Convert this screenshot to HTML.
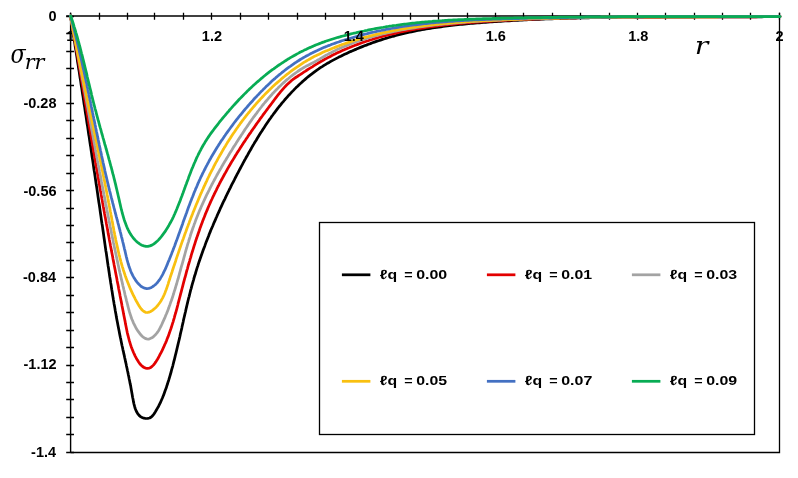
<!DOCTYPE html>
<html><head><meta charset="utf-8"><style>
html,body{margin:0;padding:0;background:#fff;}
svg{display:block;will-change:transform;}
text{font-family:"Liberation Sans",sans-serif;font-weight:bold;fill:#000;}

.m{font-family:"DejaVu Serif",serif;font-style:italic;font-weight:normal;}
</style></head><body>
<svg width="798" height="478" viewBox="0 0 798 478">
<rect width="798" height="478" fill="#fff"/>
<text x="66.31" y="40.60" style="font-size:14.5px;">1</text>
<g fill="none" stroke="#000">
<path d="M66.2,16 H779.4" stroke-width="1.5"/>
<path d="M70.6,12.7 V452.5" stroke-width="1.4"/>
<path d="M70.6,452.5 H779.5 V12.7" stroke-width="1.3"/>
<path d="M70.5,12.7 V19.7 M99.5,12.7 V19.7 M127.5,12.7 V19.7 M154.5,12.7 V19.7 M183.5,12.7 V19.7 M211.5,12.7 V19.7 M240.5,12.7 V19.7 M268.5,12.7 V19.7 M297.5,12.7 V19.7 M325.5,12.7 V19.7 M354.5,12.7 V19.7 M382.5,12.7 V19.7 M410.5,12.7 V19.7 M438.5,12.7 V19.7 M467.5,12.7 V19.7 M495.5,12.7 V19.7 M523.5,12.7 V19.7 M552.5,12.7 V19.7 M580.5,12.7 V19.7 M609.5,12.7 V19.7 M637.5,12.7 V19.7 M665.5,12.7 V19.7 M694.5,12.7 V19.7 M722.5,12.7 V19.7 M750.5,12.7 V19.7 M779.5,12.7 V19.7 M66.2,16.5 H74 M66.2,33.5 H74 M66.2,51.5 H74 M66.2,68.5 H74 M66.2,85.5 H74 M66.2,103.5 H74 M66.2,120.5 H74 M66.2,138.5 H74 M66.2,155.5 H74 M66.2,173.5 H74 M66.2,190.5 H74 M66.2,208.5 H74 M66.2,225.5 H74 M66.2,242.5 H74 M66.2,260.5 H74 M66.2,277.5 H74 M66.2,295.5 H74 M66.2,312.5 H74 M66.2,330.5 H74 M66.2,347.5 H74 M66.2,365.5 H74 M66.2,382.5 H74 M66.2,399.5 H74 M66.2,417.5 H74 M66.2,434.5 H74 M66.2,452.5 H74" stroke-width="1.3"/>
</g>
<g fill="none" stroke-width="2.75" stroke-linejoin="round" stroke-linecap="round">
<path d="M70.5,16.0 L70.8,18.1 L71.2,20.2 L71.5,22.4 L71.8,24.5 L72.1,26.6 L72.5,28.7 L72.8,30.8 L73.1,33.0 L73.5,35.1 L73.8,37.2 L74.1,39.3 L74.5,41.4 L74.8,43.5 L75.1,45.7 L75.4,47.8 L75.8,49.9 L76.1,52.0 L76.4,54.1 L76.8,56.2 L77.1,58.4 L77.4,60.5 L77.7,62.6 L78.1,64.7 L78.4,66.8 L78.7,68.9 L79.1,71.0 L79.4,73.1 L79.7,75.3 L80.0,77.4 L80.4,79.5 L80.7,81.6 L81.0,83.7 L81.3,85.8 L81.7,87.9 L82.0,90.0 L82.3,92.2 L82.6,94.3 L83.0,96.4 L83.3,98.5 L83.6,100.6 L83.9,102.7 L84.2,104.8 L84.6,106.9 L84.9,109.0 L85.2,111.2 L85.5,113.3 L85.9,115.4 L86.2,117.5 L86.5,119.6 L86.8,121.7 L87.1,123.8 L87.5,125.9 L87.8,128.0 L88.1,130.1 L88.4,132.3 L88.7,134.4 L89.1,136.5 L89.4,138.6 L89.7,140.7 L90.0,142.8 L90.3,144.9 L90.7,147.0 L91.0,149.2 L91.3,151.3 L91.6,153.4 L91.9,155.5 L92.2,157.6 L92.6,159.7 L92.9,161.8 L93.2,163.9 L93.5,166.1 L93.8,168.2 L94.1,170.3 L94.5,172.4 L94.8,174.5 L95.1,176.6 L95.4,178.8 L95.7,180.9 L96.0,183.0 L96.3,185.1 L96.7,187.2 L97.0,189.3 L97.3,191.5 L97.6,193.6 L97.9,195.7 L98.2,197.8 L98.5,199.9 L98.8,202.1 L99.2,204.2 L99.5,206.3 L99.8,208.4 L100.1,210.6 L100.4,212.7 L100.7,214.8 L101.0,216.9 L101.3,219.1 L101.6,221.2 L101.9,223.3 L102.3,225.4 L102.6,227.6 L102.9,229.7 L103.2,231.8 L103.5,233.9 L103.8,236.1 L104.1,238.2 L104.4,240.3 L104.7,242.5 L105.0,244.6 L105.3,246.7 L105.6,248.9 L105.9,251.0 L106.3,253.1 L106.6,255.3 L106.9,257.4 L107.2,259.5 L107.5,261.7 L107.8,263.8 L108.1,265.9 L108.5,268.0 L108.8,270.2 L109.1,272.3 L109.4,274.4 L109.7,276.5 L110.1,278.7 L110.4,280.8 L110.7,282.9 L111.1,285.0 L111.4,287.2 L111.7,289.3 L112.1,291.4 L112.4,293.5 L112.7,295.6 L113.1,297.7 L113.4,299.8 L113.8,301.9 L114.1,304.0 L114.5,306.1 L114.9,308.2 L115.2,310.3 L115.6,312.4 L116.0,314.5 L116.3,316.6 L116.7,318.7 L117.1,320.8 L117.5,322.8 L117.9,324.9 L118.3,327.0 L118.7,329.1 L119.1,331.1 L119.5,333.2 L119.9,335.3 L120.3,337.3 L120.8,339.4 L121.2,341.4 L121.6,343.5 L122.0,345.5 L122.5,347.5 L122.9,349.6 L123.4,351.6 L123.8,353.7 L124.3,355.7 L124.7,357.8 L125.2,359.9 L125.6,361.9 L126.1,364.0 L126.5,366.1 L127.0,368.2 L127.4,370.3 L127.9,372.5 L128.3,374.6 L128.8,376.8 L129.2,379.0 L129.7,381.2 L130.1,383.4 L130.6,385.6 L131.0,387.9 L131.4,390.2 L131.8,392.5 L132.2,394.8 L132.6,397.2 L133.1,399.5 L133.5,401.9 L134.0,404.1 L134.6,406.4 L135.2,408.5 L136.0,410.4 L136.9,412.3 L137.9,413.9 L139.1,415.4 L140.5,416.6 L142.1,417.5 L143.9,418.2 L145.8,418.5 L147.8,418.4 L149.6,418.0 L151.3,417.0 L152.8,415.5 L154.1,413.8 L155.3,411.9 L156.4,410.0 L157.5,408.1 L158.6,406.2 L159.6,404.2 L160.5,402.3 L161.4,400.3 L162.3,398.3 L163.1,396.3 L163.9,394.4 L164.6,392.3 L165.3,390.3 L166.1,388.3 L166.7,386.3 L167.4,384.3 L168.0,382.2 L168.7,380.2 L169.3,378.1 L169.9,376.1 L170.5,374.0 L171.1,372.0 L171.6,369.9 L172.2,367.8 L172.8,365.8 L173.3,363.7 L173.8,361.6 L174.4,359.5 L174.9,357.4 L175.4,355.3 L175.9,353.3 L176.4,351.2 L176.9,349.1 L177.4,347.0 L177.9,344.9 L178.4,342.8 L178.9,340.7 L179.4,338.6 L179.9,336.5 L180.3,334.4 L180.8,332.3 L181.3,330.2 L181.8,328.1 L182.2,326.0 L182.7,323.9 L183.2,321.7 L183.6,319.6 L184.1,317.5 L184.6,315.4 L185.1,313.3 L185.6,311.2 L186.0,309.2 L186.5,307.1 L187.0,305.0 L187.5,302.9 L188.0,300.8 L188.5,298.7 L189.1,296.6 L189.6,294.5 L190.1,292.5 L190.6,290.4 L191.2,288.3 L191.7,286.3 L192.3,284.2 L192.9,282.2 L193.5,280.1 L194.0,278.1 L194.6,276.0 L195.3,274.0 L195.9,271.9 L196.5,269.9 L197.1,267.9 L197.8,265.9 L198.4,263.9 L199.1,261.8 L199.8,259.8 L200.5,257.8 L201.2,255.8 L201.9,253.8 L202.6,251.8 L203.3,249.8 L204.0,247.9 L204.8,245.9 L205.5,243.9 L206.2,241.9 L207.0,239.9 L207.8,238.0 L208.6,236.0 L209.3,234.0 L210.1,232.1 L210.9,230.1 L211.7,228.2 L212.6,226.2 L213.4,224.3 L214.2,222.3 L215.1,220.4 L215.9,218.4 L216.8,216.5 L217.6,214.5 L218.5,212.6 L219.4,210.7 L220.2,208.7 L221.1,206.8 L222.0,204.9 L222.9,202.9 L223.8,201.0 L224.8,199.1 L225.7,197.2 L226.6,195.2 L227.5,193.3 L228.5,191.4 L229.4,189.5 L230.4,187.6 L231.3,185.7 L232.3,183.7 L233.3,181.8 L234.3,179.9 L235.2,178.0 L236.2,176.1 L237.2,174.2 L238.2,172.3 L239.2,170.4 L240.2,168.5 L241.2,166.6 L242.3,164.6 L243.3,162.7 L244.3,160.8 L245.4,158.9 L246.4,157.0 L247.5,155.2 L248.5,153.3 L249.6,151.4 L250.7,149.5 L251.7,147.6 L252.8,145.7 L253.9,143.9 L255.0,142.0 L256.2,140.2 L257.3,138.3 L258.4,136.5 L259.6,134.6 L260.7,132.8 L261.9,131.0 L263.0,129.2 L264.2,127.4 L265.4,125.6 L266.6,123.8 L267.8,122.0 L269.0,120.2 L270.3,118.5 L271.5,116.7 L272.8,115.0 L274.0,113.3 L275.3,111.6 L276.6,109.9 L277.9,108.2 L279.2,106.5 L280.6,104.9 L281.9,103.2 L283.3,101.6 L284.6,100.0 L286.0,98.4 L287.4,96.8 L288.8,95.2 L290.3,93.7 L291.7,92.1 L293.2,90.6 L294.6,89.1 L296.1,87.6 L297.6,86.2 L299.1,84.7 L300.7,83.3 L302.2,81.9 L303.8,80.5 L305.4,79.1 L306.9,77.8 L308.6,76.4 L310.2,75.1 L311.9,73.8 L313.5,72.6 L315.2,71.3 L316.9,70.1 L318.7,68.9 L320.4,67.7 L322.2,66.6 L324.0,65.4 L325.8,64.3 L327.6,63.2 L329.5,62.2 L331.3,61.1 L333.2,60.1 L335.1,59.1 L337.0,58.1 L338.9,57.1 L340.8,56.2 L342.7,55.2 L344.6,54.3 L346.6,53.4 L348.5,52.5 L350.5,51.6 L352.5,50.8 L354.4,49.9 L356.4,49.1 L358.4,48.2 L360.4,47.4 L362.4,46.6 L364.4,45.8 L366.4,45.1 L368.4,44.3 L370.4,43.6 L372.4,42.8 L374.4,42.1 L376.4,41.4 L378.5,40.7 L380.5,40.1 L382.5,39.4 L384.6,38.8 L386.6,38.1 L388.7,37.5 L390.7,36.9 L392.8,36.3 L394.9,35.8 L396.9,35.2 L399.0,34.7 L401.1,34.2 L403.1,33.7 L405.2,33.2 L407.3,32.7 L409.4,32.2 L411.5,31.8 L413.6,31.4 L415.7,30.9 L417.8,30.5 L419.9,30.1 L422.0,29.7 L424.1,29.4 L426.2,29.0 L428.3,28.7 L430.4,28.3 L432.5,28.0 L434.6,27.7 L436.7,27.4 L438.8,27.1 L441.0,26.8 L443.1,26.5 L445.2,26.2 L447.3,25.9 L449.5,25.7 L451.6,25.4 L453.7,25.2 L455.8,25.0 L458.0,24.7 L460.1,24.5 L462.2,24.3 L464.4,24.1 L466.5,23.9 L468.6,23.7 L470.8,23.5 L472.9,23.3 L475.0,23.2 L477.2,23.0 L479.3,22.8 L481.5,22.6 L483.6,22.5 L485.7,22.3 L487.9,22.2 L490.0,22.0 L492.1,21.9 L494.3,21.7 L496.4,21.6 L498.6,21.4 L500.7,21.3 L502.8,21.2 L505.0,21.0 L507.1,20.9 L509.3,20.8 L511.4,20.6 L513.5,20.5 L515.7,20.4 L517.8,20.3 L519.9,20.2 L522.1,20.1 L524.2,19.9 L526.4,19.8 L528.5,19.7 L530.6,19.6 L532.8,19.5 L534.9,19.4 L537.1,19.3 L539.2,19.3 L541.3,19.2 L543.5,19.1 L545.6,19.0 L547.7,18.9 L549.9,18.8 L552.0,18.8 L554.2,18.7 L556.3,18.6 L558.4,18.5 L560.6,18.5 L562.7,18.4 L564.9,18.3 L567.0,18.3 L569.1,18.2 L571.3,18.2 L573.4,18.1 L575.6,18.1 L577.7,18.0 L579.8,17.9 L582.0,17.9 L584.1,17.8 L586.3,17.8 L588.4,17.8 L590.5,17.7 L592.7,17.7 L594.8,17.6 L597.0,17.6 L599.1,17.6 L601.2,17.5 L603.4,17.5 L605.5,17.5 L607.7,17.4 L609.8,17.4 L611.9,17.4 L614.1,17.3 L616.2,17.3 L618.4,17.3 L620.5,17.3 L622.6,17.2 L624.8,17.2 L626.9,17.2 L629.1,17.2 L631.2,17.2 L633.3,17.2 L635.5,17.1 L637.6,17.1 L639.8,17.1 L641.9,17.1 L644.0,17.1 L646.2,17.1 L648.3,17.1 L650.5,17.0 L652.6,17.0 L654.7,17.0 L656.9,17.0 L659.0,17.0 L661.2,17.0 L663.3,17.0 L665.4,17.0 L667.6,17.0 L669.7,17.0 L671.9,17.0 L674.0,17.0 L676.2,17.0 L678.3,17.0 L680.4,17.0 L682.6,17.0 L684.7,17.0 L686.9,17.0 L689.0,17.0 L691.1,17.0 L693.3,17.0 L695.4,17.0 L697.6,16.9 L699.7,16.9 L701.8,16.9 L704.0,16.9 L706.1,16.9 L708.3,16.9 L710.4,16.9 L712.6,16.9 L714.7,16.9 L716.8,16.9 L719.0,16.9 L721.1,16.9 L723.3,16.9 L725.4,16.9 L727.5,16.9 L729.7,16.9 L731.8,16.9 L734.0,16.9 L736.1,16.9 L738.2,16.9 L740.4,16.9 L742.5,16.9 L744.7,16.9 L746.8,16.8 L749.0,16.8 L751.1,16.8 L753.2,16.8 L755.4,16.8 L757.5,16.8 L759.7,16.8 L761.8,16.8 L763.9,16.7 L766.1,16.7 L768.2,16.7 L770.4,16.7 L772.5,16.7 L774.6,16.6 L776.8,16.6 L778.9,16.6 L780.0,16.6" stroke="#000000"/><path d="M70.5,16.0 L70.8,18.0 L71.2,19.9 L71.5,21.9 L71.9,23.8 L72.2,25.8 L72.6,27.7 L72.9,29.7 L73.3,31.6 L73.6,33.6 L73.9,35.6 L74.3,37.5 L74.6,39.5 L75.0,41.4 L75.3,43.4 L75.6,45.3 L76.0,47.3 L76.3,49.3 L76.6,51.2 L77.0,53.2 L77.3,55.1 L77.7,57.1 L78.0,59.1 L78.3,61.0 L78.7,63.0 L79.0,64.9 L79.3,66.9 L79.7,68.9 L80.0,70.8 L80.3,72.8 L80.7,74.7 L81.0,76.7 L81.3,78.7 L81.7,80.6 L82.0,82.6 L82.3,84.5 L82.7,86.5 L83.0,88.5 L83.3,90.4 L83.7,92.4 L84.0,94.4 L84.3,96.3 L84.7,98.3 L85.0,100.2 L85.3,102.2 L85.6,104.2 L86.0,106.1 L86.3,108.1 L86.6,110.1 L87.0,112.0 L87.3,114.0 L87.6,115.9 L88.0,117.9 L88.3,119.9 L88.6,121.8 L89.0,123.8 L89.3,125.8 L89.6,127.7 L90.0,129.7 L90.3,131.6 L90.6,133.6 L91.0,135.6 L91.3,137.5 L91.6,139.5 L92.0,141.5 L92.3,143.4 L92.6,145.4 L93.0,147.3 L93.3,149.3 L93.6,151.3 L94.0,153.2 L94.3,155.2 L94.6,157.2 L95.0,159.1 L95.3,161.1 L95.6,163.0 L96.0,165.0 L96.3,167.0 L96.7,168.9 L97.0,170.9 L97.3,172.9 L97.7,174.8 L98.0,176.8 L98.4,178.7 L98.7,180.7 L99.1,182.7 L99.4,184.6 L99.7,186.6 L100.1,188.5 L100.4,190.5 L100.8,192.5 L101.1,194.4 L101.5,196.4 L101.8,198.3 L102.2,200.3 L102.5,202.3 L102.9,204.2 L103.2,206.2 L103.6,208.1 L103.9,210.1 L104.3,212.0 L104.6,214.0 L105.0,216.0 L105.4,217.9 L105.7,219.9 L106.1,221.8 L106.4,223.8 L106.8,225.7 L107.2,227.7 L107.5,229.6 L107.9,231.6 L108.2,233.6 L108.6,235.5 L109.0,237.5 L109.3,239.4 L109.7,241.4 L110.1,243.3 L110.4,245.3 L110.8,247.2 L111.2,249.2 L111.5,251.1 L111.9,253.1 L112.3,255.1 L112.7,257.0 L113.0,259.0 L113.4,260.9 L113.8,262.9 L114.1,264.8 L114.5,266.8 L114.9,268.7 L115.3,270.7 L115.6,272.6 L116.0,274.6 L116.4,276.5 L116.8,278.5 L117.1,280.4 L117.5,282.4 L117.9,284.3 L118.3,286.3 L118.6,288.2 L119.0,290.2 L119.4,292.1 L119.8,294.1 L120.1,296.0 L120.5,298.0 L120.9,300.0 L121.3,301.9 L121.7,303.9 L122.0,305.8 L122.4,307.8 L122.8,309.7 L123.2,311.7 L123.5,313.6 L123.9,315.6 L124.3,317.5 L124.7,319.5 L125.1,321.4 L125.4,323.4 L125.8,325.3 L126.2,327.3 L126.6,329.2 L127.0,331.2 L127.4,333.1 L127.9,335.1 L128.4,337.0 L128.9,339.0 L129.4,340.9 L130.0,342.8 L130.6,344.8 L131.2,346.7 L131.9,348.6 L132.7,350.6 L133.5,352.5 L134.4,354.4 L135.3,356.3 L136.3,358.2 L137.4,360.1 L138.6,362.0 L139.8,363.7 L141.2,365.2 L142.6,366.5 L144.1,367.5 L145.7,368.1 L147.2,368.4 L149.4,368.1 L150.8,367.4 L152.1,366.4 L153.4,365.1 L154.6,363.6 L155.8,361.9 L157.0,360.1 L158.1,358.2 L159.2,356.2 L160.2,354.2 L161.2,352.3 L162.2,350.3 L163.1,348.4 L164.0,346.4 L164.8,344.5 L165.7,342.6 L166.5,340.7 L167.2,338.8 L168.0,336.9 L168.7,335.0 L169.4,333.1 L170.0,331.2 L170.7,329.3 L171.3,327.5 L171.9,325.6 L172.5,323.7 L173.1,321.8 L173.6,320.0 L174.2,318.1 L174.7,316.2 L175.2,314.4 L175.8,312.5 L176.3,310.6 L176.8,308.8 L177.3,306.9 L177.8,305.0 L178.2,303.1 L178.7,301.3 L179.2,299.4 L179.7,297.5 L180.2,295.6 L180.7,293.7 L181.2,291.8 L181.7,289.9 L182.2,288.0 L182.7,286.1 L183.2,284.2 L183.7,282.2 L184.2,280.3 L184.7,278.4 L185.3,276.5 L185.8,274.6 L186.3,272.7 L186.8,270.7 L187.4,268.8 L187.9,266.9 L188.4,265.0 L189.0,263.0 L189.6,261.1 L190.1,259.2 L190.7,257.3 L191.2,255.3 L191.8,253.4 L192.4,251.5 L193.0,249.6 L193.6,247.7 L194.2,245.7 L194.8,243.8 L195.4,241.9 L196.0,240.0 L196.7,238.1 L197.3,236.2 L198.0,234.3 L198.6,232.4 L199.3,230.5 L199.9,228.6 L200.6,226.7 L201.3,224.8 L202.0,223.0 L202.7,221.1 L203.4,219.2 L204.2,217.3 L204.9,215.5 L205.6,213.6 L206.4,211.8 L207.2,209.9 L207.9,208.1 L208.7,206.3 L209.5,204.5 L210.3,202.6 L211.1,200.8 L212.0,199.0 L212.8,197.2 L213.7,195.4 L214.5,193.6 L215.4,191.8 L216.3,190.1 L217.1,188.3 L218.0,186.5 L218.9,184.8 L219.8,183.0 L220.8,181.2 L221.7,179.5 L222.6,177.8 L223.6,176.0 L224.5,174.3 L225.5,172.6 L226.5,170.8 L227.4,169.1 L228.4,167.4 L229.4,165.7 L230.4,164.0 L231.4,162.3 L232.5,160.6 L233.5,158.9 L234.5,157.2 L235.5,155.5 L236.6,153.8 L237.6,152.1 L238.7,150.5 L239.8,148.8 L240.8,147.1 L241.9,145.5 L243.0,143.8 L244.1,142.1 L245.2,140.5 L246.3,138.8 L247.4,137.2 L248.5,135.5 L249.6,133.9 L250.8,132.3 L251.9,130.6 L253.0,129.0 L254.2,127.4 L255.3,125.7 L256.4,124.1 L257.6,122.5 L258.8,120.9 L259.9,119.2 L261.1,117.6 L262.3,116.0 L263.4,114.4 L264.6,112.8 L265.8,111.2 L267.0,109.6 L268.2,108.0 L269.4,106.4 L270.6,104.8 L271.8,103.2 L273.0,101.6 L274.2,100.0 L275.4,98.4 L276.6,96.8 L277.9,95.2 L279.1,93.7 L280.3,92.1 L281.6,90.6 L282.9,89.1 L284.2,87.6 L285.5,86.2 L286.9,84.8 L288.3,83.5 L289.7,82.2 L291.1,80.9 L292.6,79.7 L294.1,78.6 L295.7,77.5 L297.3,76.5 L298.9,75.4 L300.5,74.4 L302.1,73.3 L303.8,72.2 L305.5,71.1 L307.1,70.0 L308.8,68.9 L310.5,67.9 L312.3,66.8 L314.0,65.7 L315.7,64.6 L317.4,63.6 L319.2,62.5 L320.9,61.5 L322.7,60.5 L324.4,59.5 L326.2,58.6 L328.0,57.6 L329.8,56.7 L331.5,55.7 L333.3,54.8 L335.1,54.0 L336.9,53.1 L338.7,52.2 L340.5,51.4 L342.3,50.6 L344.2,49.8 L346.0,49.0 L347.8,48.2 L349.6,47.5 L351.5,46.7 L353.3,46.0 L355.2,45.3 L357.0,44.6 L358.9,43.9 L360.7,43.2 L362.6,42.5 L364.5,41.9 L366.3,41.3 L368.2,40.7 L370.1,40.0 L372.0,39.5 L373.8,38.9 L375.7,38.3 L377.6,37.8 L379.5,37.2 L381.4,36.7 L383.3,36.2 L385.2,35.7 L387.2,35.2 L389.1,34.7 L391.0,34.2 L392.9,33.8 L394.8,33.3 L396.8,32.9 L398.7,32.4 L400.6,32.0 L402.6,31.6 L404.5,31.2 L406.4,30.8 L408.4,30.4 L410.3,30.1 L412.3,29.7 L414.2,29.4 L416.2,29.0 L418.1,28.7 L420.1,28.4 L422.1,28.1 L424.0,27.8 L426.0,27.5 L428.0,27.2 L429.9,26.9 L431.9,26.6 L433.9,26.4 L435.8,26.1 L437.8,25.8 L439.8,25.6 L441.8,25.4 L443.8,25.1 L445.7,24.9 L447.7,24.7 L449.7,24.5 L451.7,24.3 L453.7,24.1 L455.7,23.9 L457.6,23.7 L459.6,23.5 L461.6,23.3 L463.6,23.1 L465.6,23.0 L467.6,22.8 L469.6,22.7 L471.6,22.5 L473.6,22.3 L475.6,22.2 L477.6,22.1 L479.6,21.9 L481.6,21.8 L483.6,21.6 L485.5,21.5 L487.5,21.4 L489.5,21.3 L491.5,21.1 L493.5,21.0 L495.5,20.9 L497.5,20.8 L499.5,20.7 L501.5,20.6 L503.5,20.4 L505.5,20.3 L507.5,20.2 L509.5,20.1 L511.5,20.0 L513.5,19.9 L515.4,19.8 L517.4,19.7 L519.4,19.7 L521.4,19.6 L523.4,19.5 L525.4,19.4 L527.4,19.3 L529.4,19.2 L531.4,19.1 L533.4,19.1 L535.4,19.0 L537.3,18.9 L539.3,18.8 L541.3,18.8 L543.3,18.7 L545.3,18.6 L547.3,18.6 L549.3,18.5 L551.3,18.4 L553.3,18.4 L555.2,18.3 L557.2,18.3 L559.2,18.2 L561.2,18.2 L563.2,18.1 L565.2,18.1 L567.2,18.0 L569.2,18.0 L571.1,17.9 L573.1,17.9 L575.1,17.8 L577.1,17.8 L579.1,17.7 L581.1,17.7 L583.1,17.7 L585.1,17.6 L587.0,17.6 L589.0,17.6 L591.0,17.5 L593.0,17.5 L595.0,17.5 L597.0,17.4 L599.0,17.4 L600.9,17.4 L602.9,17.3 L604.9,17.3 L606.9,17.3 L608.9,17.3 L610.9,17.3 L612.9,17.2 L614.9,17.2 L616.8,17.2 L618.8,17.2 L620.8,17.2 L622.8,17.1 L624.8,17.1 L626.8,17.1 L628.8,17.1 L630.7,17.1 L632.7,17.1 L634.7,17.1 L636.7,17.0 L638.7,17.0 L640.7,17.0 L642.7,17.0 L644.6,17.0 L646.6,17.0 L648.6,17.0 L650.6,17.0 L652.6,17.0 L654.6,17.0 L656.6,17.0 L658.6,17.0 L660.5,17.0 L662.5,16.9 L664.5,16.9 L666.5,16.9 L668.5,16.9 L670.5,16.9 L672.5,16.9 L674.5,16.9 L676.4,16.9 L678.4,16.9 L680.4,16.9 L682.4,16.9 L684.4,16.9 L686.4,16.9 L688.4,16.9 L690.4,16.9 L692.3,16.9 L694.3,16.9 L696.3,16.9 L698.3,16.9 L700.3,16.9 L702.3,16.9 L704.3,16.9 L706.3,16.9 L708.3,16.9 L710.2,16.9 L712.2,16.9 L714.2,16.9 L716.2,16.9 L718.2,16.9 L720.2,16.9 L722.2,16.9 L724.2,16.9 L726.2,16.9 L728.2,16.9 L730.2,16.9 L732.1,16.9 L734.1,16.9 L736.1,16.8 L738.1,16.8 L740.1,16.8 L742.1,16.8 L744.1,16.8 L746.1,16.8 L748.1,16.8 L750.1,16.8 L752.1,16.8 L754.1,16.8 L756.1,16.8 L758.1,16.7 L760.1,16.7 L762.1,16.7 L764.0,16.7 L766.0,16.7 L768.0,16.7 L770.0,16.7 L772.0,16.6 L774.0,16.6 L776.0,16.6 L778.0,16.6 L780.0,16.6 L780.0,16.6" stroke="#E30000"/><path d="M70.5,16.0 L70.9,17.9 L71.2,19.7 L71.6,21.6 L71.9,23.5 L72.3,25.4 L72.7,27.2 L73.0,29.1 L73.4,31.0 L73.7,32.8 L74.1,34.7 L74.4,36.6 L74.8,38.5 L75.2,40.3 L75.5,42.2 L75.9,44.1 L76.2,46.0 L76.6,47.8 L76.9,49.7 L77.3,51.6 L77.6,53.5 L78.0,55.3 L78.3,57.2 L78.7,59.1 L79.0,61.0 L79.4,62.9 L79.7,64.7 L80.1,66.6 L80.4,68.5 L80.8,70.4 L81.1,72.2 L81.5,74.1 L81.8,76.0 L82.2,77.9 L82.5,79.7 L82.9,81.6 L83.2,83.5 L83.6,85.4 L83.9,87.3 L84.3,89.1 L84.6,91.0 L85.0,92.9 L85.3,94.8 L85.7,96.7 L86.0,98.5 L86.4,100.4 L86.7,102.3 L87.1,104.2 L87.4,106.0 L87.8,107.9 L88.1,109.8 L88.5,111.7 L88.8,113.6 L89.2,115.4 L89.5,117.3 L89.8,119.2 L90.2,121.1 L90.5,123.0 L90.9,124.8 L91.2,126.7 L91.6,128.6 L91.9,130.5 L92.3,132.4 L92.6,134.2 L93.0,136.1 L93.3,138.0 L93.7,139.9 L94.0,141.8 L94.4,143.6 L94.7,145.5 L95.1,147.4 L95.4,149.3 L95.8,151.1 L96.1,153.0 L96.5,154.9 L96.8,156.8 L97.2,158.7 L97.5,160.5 L97.9,162.4 L98.2,164.3 L98.6,166.2 L98.9,168.1 L99.3,169.9 L99.6,171.8 L100.0,173.7 L100.4,175.6 L100.7,177.4 L101.1,179.3 L101.4,181.2 L101.8,183.1 L102.1,184.9 L102.5,186.8 L102.9,188.7 L103.2,190.6 L103.6,192.4 L103.9,194.3 L104.3,196.2 L104.7,198.1 L105.0,199.9 L105.4,201.8 L105.7,203.7 L106.1,205.6 L106.5,207.4 L106.8,209.3 L107.2,211.2 L107.6,213.1 L107.9,214.9 L108.3,216.8 L108.7,218.7 L109.0,220.5 L109.4,222.4 L109.8,224.3 L110.1,226.2 L110.5,228.0 L110.9,229.9 L111.3,231.8 L111.6,233.6 L112.0,235.5 L112.4,237.4 L112.8,239.2 L113.2,241.1 L113.5,243.0 L113.9,244.8 L114.3,246.7 L114.7,248.6 L115.1,250.4 L115.5,252.3 L115.9,254.2 L116.3,256.0 L116.7,257.9 L117.1,259.8 L117.5,261.6 L117.9,263.5 L118.3,265.3 L118.7,267.2 L119.1,269.1 L119.5,270.9 L119.9,272.8 L120.4,274.6 L120.8,276.5 L121.2,278.4 L121.6,280.2 L122.1,282.1 L122.5,283.9 L122.9,285.8 L123.4,287.6 L123.8,289.5 L124.3,291.4 L124.7,293.2 L125.1,295.1 L125.6,296.9 L126.1,298.8 L126.5,300.6 L127.0,302.5 L127.5,304.3 L127.9,306.2 L128.4,308.0 L128.9,309.9 L129.4,311.7 L130.0,313.6 L130.6,315.4 L131.2,317.2 L131.8,319.0 L132.6,320.8 L133.3,322.6 L134.2,324.4 L135.1,326.2 L136.0,328.0 L137.1,329.7 L138.2,331.4 L139.5,333.1 L140.8,334.8 L142.1,336.2 L143.6,337.4 L145.1,338.4 L146.6,338.9 L148.2,339.1 L149.7,338.8 L151.3,338.1 L152.8,337.2 L154.3,335.9 L155.7,334.5 L157.0,332.9 L158.2,331.2 L159.3,329.5 L160.2,327.7 L161.1,326.0 L161.9,324.2 L162.7,322.4 L163.5,320.7 L164.3,318.9 L165.1,317.1 L165.8,315.3 L166.6,313.5 L167.3,311.7 L168.0,309.9 L168.7,308.1 L169.3,306.3 L170.0,304.4 L170.6,302.6 L171.3,300.8 L171.9,299.0 L172.5,297.2 L173.1,295.3 L173.7,293.5 L174.2,291.7 L174.8,289.8 L175.4,288.0 L175.9,286.1 L176.5,284.3 L177.0,282.5 L177.5,280.6 L178.1,278.8 L178.6,276.9 L179.1,275.1 L179.6,273.2 L180.1,271.4 L180.6,269.6 L181.1,267.7 L181.6,265.9 L182.2,264.0 L182.7,262.2 L183.2,260.3 L183.7,258.5 L184.2,256.7 L184.7,254.8 L185.2,253.0 L185.7,251.2 L186.2,249.4 L186.8,247.5 L187.3,245.7 L187.8,243.9 L188.4,242.1 L188.9,240.3 L189.5,238.5 L190.1,236.6 L190.6,234.8 L191.2,233.0 L191.8,231.3 L192.4,229.5 L193.0,227.7 L193.7,225.9 L194.3,224.1 L195.0,222.4 L195.6,220.6 L196.3,218.8 L197.0,217.1 L197.7,215.3 L198.4,213.6 L199.1,211.8 L199.8,210.1 L200.6,208.4 L201.3,206.6 L202.1,204.9 L202.9,203.2 L203.6,201.5 L204.4,199.8 L205.2,198.1 L206.0,196.4 L206.8,194.7 L207.7,193.0 L208.5,191.3 L209.4,189.6 L210.2,187.9 L211.1,186.2 L211.9,184.5 L212.8,182.8 L213.7,181.2 L214.6,179.5 L215.5,177.8 L216.4,176.2 L217.3,174.5 L218.3,172.8 L219.2,171.2 L220.1,169.5 L221.1,167.9 L222.0,166.2 L223.0,164.6 L223.9,162.9 L224.9,161.3 L225.9,159.7 L226.9,158.0 L227.9,156.4 L228.9,154.7 L229.9,153.1 L230.9,151.5 L231.9,149.9 L232.9,148.2 L233.9,146.6 L235.0,145.0 L236.0,143.4 L237.0,141.7 L238.1,140.1 L239.1,138.5 L240.2,136.9 L241.2,135.3 L242.3,133.7 L243.4,132.0 L244.4,130.4 L245.5,128.8 L246.6,127.2 L247.7,125.6 L248.8,124.0 L249.9,122.4 L251.0,120.9 L252.1,119.3 L253.2,117.7 L254.4,116.2 L255.5,114.6 L256.7,113.1 L257.8,111.5 L259.0,110.0 L260.1,108.5 L261.3,107.0 L262.5,105.4 L263.7,104.0 L264.9,102.5 L266.2,101.0 L267.4,99.6 L268.6,98.1 L269.9,96.7 L271.2,95.3 L272.4,93.8 L273.7,92.5 L275.0,91.1 L276.3,89.7 L277.7,88.4 L279.0,87.0 L280.4,85.7 L281.7,84.4 L283.1,83.1 L284.5,81.9 L285.9,80.6 L287.3,79.4 L288.8,78.2 L290.2,77.0 L291.7,75.8 L293.2,74.7 L294.7,73.6 L296.2,72.5 L297.6,71.5 L299.1,70.5 L300.6,69.5 L302.0,68.6 L303.5,67.7 L304.9,66.9 L306.3,66.1 L307.7,65.4 L309.1,64.7 L310.5,64.0 L311.9,63.3 L313.4,62.6 L314.9,61.7 L316.4,60.9 L317.9,60.0 L319.5,59.1 L321.1,58.1 L322.7,57.2 L324.4,56.2 L326.0,55.3 L327.7,54.4 L329.3,53.5 L331.0,52.7 L332.7,51.8 L334.4,51.0 L336.1,50.1 L337.8,49.3 L339.5,48.6 L341.2,47.8 L343.0,47.0 L344.7,46.3 L346.5,45.6 L348.2,44.9 L350.0,44.2 L351.7,43.5 L353.5,42.8 L355.3,42.2 L357.1,41.5 L358.9,40.9 L360.7,40.3 L362.5,39.7 L364.3,39.1 L366.1,38.6 L368.0,38.0 L369.8,37.5 L371.6,36.9 L373.4,36.4 L375.3,35.9 L377.1,35.4 L379.0,35.0 L380.8,34.5 L382.7,34.0 L384.6,33.6 L386.4,33.1 L388.3,32.7 L390.2,32.3 L392.0,31.9 L393.9,31.5 L395.8,31.1 L397.7,30.7 L399.6,30.4 L401.4,30.0 L403.3,29.7 L405.2,29.3 L407.1,29.0 L409.0,28.7 L410.9,28.4 L412.8,28.1 L414.7,27.8 L416.6,27.5 L418.4,27.2 L420.3,26.9 L422.2,26.7 L424.1,26.4 L426.0,26.1 L427.9,25.9 L429.8,25.7 L431.7,25.4 L433.6,25.2 L435.5,25.0 L437.4,24.8 L439.3,24.5 L441.2,24.3 L443.1,24.1 L445.0,23.9 L446.9,23.8 L448.8,23.6 L450.7,23.4 L452.6,23.2 L454.5,23.1 L456.4,22.9 L458.3,22.7 L460.2,22.6 L462.1,22.4 L464.0,22.3 L465.9,22.1 L467.8,22.0 L469.7,21.9 L471.6,21.7 L473.5,21.6 L475.4,21.5 L477.3,21.4 L479.2,21.2 L481.2,21.1 L483.1,21.0 L485.0,20.9 L486.9,20.8 L488.8,20.7 L490.7,20.6 L492.6,20.5 L494.5,20.4 L496.4,20.3 L498.3,20.2 L500.2,20.1 L502.1,20.0 L504.0,19.9 L505.9,19.8 L507.8,19.7 L509.7,19.6 L511.7,19.6 L513.6,19.5 L515.5,19.4 L517.4,19.3 L519.3,19.2 L521.2,19.2 L523.1,19.1 L525.0,19.0 L526.9,18.9 L528.8,18.9 L530.7,18.8 L532.6,18.7 L534.5,18.7 L536.5,18.6 L538.4,18.6 L540.3,18.5 L542.2,18.4 L544.1,18.4 L546.0,18.3 L547.9,18.3 L549.8,18.2 L551.7,18.2 L553.6,18.1 L555.5,18.1 L557.5,18.0 L559.4,18.0 L561.3,17.9 L563.2,17.9 L565.1,17.8 L567.0,17.8 L568.9,17.8 L570.8,17.7 L572.7,17.7 L574.6,17.6 L576.6,17.6 L578.5,17.6 L580.4,17.5 L582.3,17.5 L584.2,17.5 L586.1,17.4 L588.0,17.4 L589.9,17.4 L591.8,17.4 L593.7,17.3 L595.7,17.3 L597.6,17.3 L599.5,17.3 L601.4,17.2 L603.3,17.2 L605.2,17.2 L607.1,17.2 L609.0,17.1 L610.9,17.1 L612.8,17.1 L614.8,17.1 L616.7,17.1 L618.6,17.1 L620.5,17.0 L622.4,17.0 L624.3,17.0 L626.2,17.0 L628.1,17.0 L630.0,17.0 L632.0,17.0 L633.9,17.0 L635.8,16.9 L637.7,16.9 L639.6,16.9 L641.5,16.9 L643.4,16.9 L645.3,16.9 L647.2,16.9 L649.2,16.9 L651.1,16.9 L653.0,16.9 L654.9,16.9 L656.8,16.9 L658.7,16.9 L660.6,16.9 L662.5,16.9 L664.4,16.9 L666.4,16.9 L668.3,16.8 L670.2,16.8 L672.1,16.8 L674.0,16.8 L675.9,16.8 L677.8,16.8 L679.7,16.8 L681.6,16.8 L683.6,16.8 L685.5,16.8 L687.4,16.8 L689.3,16.8 L691.2,16.8 L693.1,16.8 L695.0,16.8 L696.9,16.8 L698.8,16.8 L700.8,16.8 L702.7,16.8 L704.6,16.8 L706.5,16.8 L708.4,16.8 L710.3,16.8 L712.2,16.8 L714.1,16.8 L716.0,16.8 L717.9,16.8 L719.9,16.8 L721.8,16.8 L723.7,16.8 L725.6,16.8 L727.5,16.8 L729.4,16.8 L731.3,16.8 L733.2,16.8 L735.1,16.8 L737.0,16.8 L739.0,16.8 L740.9,16.8 L742.8,16.8 L744.7,16.8 L746.6,16.8 L748.5,16.7 L750.4,16.7 L752.3,16.7 L754.2,16.7 L756.1,16.7 L758.0,16.7 L760.0,16.7 L761.9,16.7 L763.8,16.7 L765.7,16.7 L767.6,16.6 L769.5,16.6 L771.4,16.6 L773.3,16.6 L775.2,16.6 L777.1,16.6 L779.0,16.6 L780.0,16.5" stroke="#A3A3A3"/><path d="M70.5,16.0 L70.8,17.8 L71.2,19.6 L71.5,21.4 L71.9,23.2 L72.2,25.0 L72.6,26.8 L72.9,28.6 L73.2,30.4 L73.6,32.2 L73.9,34.0 L74.3,35.8 L74.7,37.6 L75.0,39.4 L75.4,41.1 L75.7,42.9 L76.1,44.7 L76.4,46.5 L76.8,48.3 L77.2,50.1 L77.5,51.9 L77.9,53.7 L78.2,55.5 L78.6,57.3 L79.0,59.1 L79.3,60.9 L79.7,62.6 L80.1,64.4 L80.4,66.2 L80.8,68.0 L81.2,69.8 L81.6,71.6 L81.9,73.4 L82.3,75.2 L82.7,77.0 L83.0,78.7 L83.4,80.5 L83.8,82.3 L84.2,84.1 L84.5,85.9 L84.9,87.7 L85.3,89.5 L85.7,91.3 L86.1,93.0 L86.4,94.8 L86.8,96.6 L87.2,98.4 L87.6,100.2 L87.9,102.0 L88.3,103.8 L88.7,105.5 L89.1,107.3 L89.5,109.1 L89.8,110.9 L90.2,112.7 L90.6,114.5 L91.0,116.3 L91.4,118.0 L91.7,119.8 L92.1,121.6 L92.5,123.4 L92.9,125.2 L93.3,127.0 L93.6,128.8 L94.0,130.6 L94.4,132.3 L94.8,134.1 L95.1,135.9 L95.5,137.7 L95.9,139.5 L96.3,141.3 L96.7,143.1 L97.0,144.8 L97.4,146.6 L97.8,148.4 L98.2,150.2 L98.5,152.0 L98.9,153.8 L99.3,155.6 L99.6,157.4 L100.0,159.2 L100.4,160.9 L100.8,162.7 L101.1,164.5 L101.5,166.3 L101.9,168.1 L102.2,169.9 L102.6,171.7 L103.0,173.5 L103.3,175.3 L103.7,177.1 L104.0,178.8 L104.4,180.6 L104.8,182.4 L105.1,184.2 L105.5,186.0 L105.8,187.8 L106.2,189.6 L106.5,191.4 L106.9,193.2 L107.2,195.0 L107.6,196.8 L107.9,198.6 L108.3,200.4 L108.6,202.2 L109.0,204.0 L109.3,205.8 L109.7,207.6 L110.0,209.4 L110.3,211.2 L110.7,213.0 L111.0,214.8 L111.4,216.6 L111.7,218.4 L112.0,220.2 L112.4,222.0 L112.7,223.8 L113.0,225.6 L113.4,227.4 L113.7,229.2 L114.0,231.0 L114.4,232.8 L114.7,234.6 L115.1,236.4 L115.5,238.2 L115.8,240.0 L116.2,241.7 L116.6,243.5 L117.0,245.3 L117.4,247.1 L117.8,248.9 L118.2,250.7 L118.6,252.5 L119.0,254.3 L119.5,256.0 L119.9,257.8 L120.4,259.6 L120.8,261.3 L121.3,263.1 L121.8,264.9 L122.3,266.6 L122.9,268.4 L123.4,270.2 L124.0,271.9 L124.6,273.7 L125.1,275.4 L125.7,277.1 L126.4,278.9 L127.0,280.6 L127.7,282.3 L128.4,284.1 L129.1,285.8 L129.8,287.5 L130.5,289.2 L131.3,290.9 L132.1,292.6 L132.9,294.3 L133.7,296.0 L134.6,297.7 L135.4,299.3 L136.3,301.0 L137.3,302.7 L138.2,304.3 L139.2,306.0 L140.2,307.6 L141.3,309.0 L142.4,310.3 L143.6,311.3 L145.5,312.3 L147.5,312.5 L149.0,312.2 L150.6,311.5 L152.1,310.6 L153.6,309.4 L155.0,308.2 L156.4,306.9 L157.7,305.5 L158.8,304.0 L159.9,302.5 L160.9,301.0 L161.8,299.4 L162.7,297.8 L163.5,296.2 L164.3,294.5 L165.0,292.8 L165.6,291.1 L166.3,289.4 L166.9,287.6 L167.5,285.9 L168.1,284.1 L168.6,282.3 L169.2,280.6 L169.8,278.8 L170.3,277.0 L170.9,275.3 L171.5,273.5 L172.1,271.7 L172.6,270.0 L173.2,268.2 L173.8,266.4 L174.4,264.7 L175.0,262.9 L175.6,261.2 L176.1,259.4 L176.7,257.6 L177.3,255.9 L177.9,254.1 L178.5,252.4 L179.1,250.6 L179.7,248.9 L180.3,247.1 L180.9,245.4 L181.5,243.6 L182.1,241.9 L182.7,240.2 L183.4,238.4 L184.0,236.7 L184.6,234.9 L185.2,233.2 L185.9,231.5 L186.5,229.8 L187.1,228.0 L187.8,226.3 L188.4,224.6 L189.1,222.9 L189.7,221.1 L190.4,219.4 L191.0,217.7 L191.7,216.0 L192.4,214.3 L193.0,212.6 L193.7,210.9 L194.4,209.2 L195.1,207.5 L195.8,205.8 L196.5,204.1 L197.2,202.4 L197.9,200.7 L198.6,199.0 L199.3,197.4 L200.0,195.7 L200.7,194.0 L201.5,192.3 L202.2,190.7 L203.0,189.0 L203.7,187.4 L204.5,185.7 L205.2,184.1 L206.0,182.4 L206.8,180.8 L207.5,179.1 L208.3,177.5 L209.1,175.9 L209.9,174.2 L210.7,172.6 L211.5,171.0 L212.4,169.4 L213.2,167.8 L214.0,166.1 L214.9,164.5 L215.7,162.9 L216.6,161.4 L217.4,159.8 L218.3,158.2 L219.2,156.6 L220.1,155.0 L221.0,153.5 L221.9,151.9 L222.8,150.3 L223.7,148.8 L224.6,147.2 L225.6,145.7 L226.5,144.1 L227.4,142.6 L228.4,141.1 L229.4,139.5 L230.4,138.0 L231.3,136.5 L232.3,135.0 L233.3,133.5 L234.4,132.0 L235.4,130.5 L236.4,129.0 L237.5,127.5 L238.5,126.0 L239.6,124.6 L240.6,123.1 L241.7,121.6 L242.8,120.2 L243.9,118.7 L245.0,117.3 L246.1,115.9 L247.3,114.4 L248.4,113.0 L249.6,111.6 L250.7,110.2 L251.9,108.8 L253.1,107.4 L254.3,106.0 L255.5,104.6 L256.7,103.2 L257.9,101.9 L259.2,100.5 L260.4,99.1 L261.7,97.8 L262.9,96.5 L264.2,95.1 L265.5,93.8 L266.8,92.5 L268.1,91.2 L269.4,89.9 L270.8,88.6 L272.1,87.3 L273.4,86.1 L274.8,84.8 L276.1,83.6 L277.5,82.4 L278.9,81.2 L280.3,80.0 L281.6,78.8 L283.0,77.6 L284.4,76.5 L285.8,75.3 L287.2,74.2 L288.7,73.1 L290.1,72.0 L291.5,70.9 L292.9,69.9 L294.4,68.8 L295.8,67.8 L297.3,66.8 L298.8,65.8 L300.2,64.8 L301.7,63.8 L303.2,62.8 L304.8,61.9 L306.3,61.0 L307.8,60.1 L309.4,59.2 L311.0,58.3 L312.5,57.4 L314.1,56.6 L315.8,55.8 L317.4,55.0 L319.1,54.2 L320.7,53.4 L322.4,52.6 L324.1,51.8 L325.8,51.1 L327.5,50.4 L329.2,49.7 L330.9,48.9 L332.6,48.2 L334.3,47.6 L336.1,46.9 L337.8,46.2 L339.5,45.6 L341.2,44.9 L343.0,44.3 L344.7,43.7 L346.4,43.1 L348.2,42.5 L349.9,41.9 L351.6,41.4 L353.4,40.8 L355.1,40.2 L356.9,39.7 L358.6,39.2 L360.4,38.7 L362.1,38.1 L363.9,37.6 L365.6,37.1 L367.4,36.7 L369.2,36.2 L370.9,35.7 L372.7,35.3 L374.4,34.8 L376.2,34.4 L378.0,34.0 L379.8,33.6 L381.5,33.1 L383.3,32.7 L385.1,32.3 L386.9,32.0 L388.7,31.6 L390.4,31.2 L392.2,30.9 L394.0,30.5 L395.8,30.2 L397.6,29.8 L399.4,29.5 L401.2,29.2 L403.0,28.9 L404.8,28.6 L406.6,28.3 L408.4,28.0 L410.2,27.7 L412.0,27.4 L413.8,27.1 L415.6,26.9 L417.4,26.6 L419.2,26.4 L421.0,26.1 L422.8,25.9 L424.6,25.6 L426.4,25.4 L428.2,25.2 L430.0,25.0 L431.9,24.8 L433.7,24.6 L435.5,24.4 L437.3,24.2 L439.1,24.0 L440.9,23.8 L442.8,23.6 L444.6,23.4 L446.4,23.3 L448.2,23.1 L450.0,23.0 L451.9,22.8 L453.7,22.6 L455.5,22.5 L457.3,22.4 L459.2,22.2 L461.0,22.1 L462.8,21.9 L464.6,21.8 L466.5,21.7 L468.3,21.6 L470.1,21.5 L472.0,21.3 L473.8,21.2 L475.6,21.1 L477.5,21.0 L479.3,20.9 L481.1,20.8 L482.9,20.7 L484.8,20.6 L486.6,20.5 L488.4,20.4 L490.3,20.3 L492.1,20.3 L493.9,20.2 L495.8,20.1 L497.6,20.0 L499.4,19.9 L501.2,19.8 L503.1,19.8 L504.9,19.7 L506.7,19.6 L508.6,19.5 L510.4,19.5 L512.2,19.4 L514.1,19.3 L515.9,19.3 L517.7,19.2 L519.5,19.1 L521.4,19.1 L523.2,19.0 L525.0,18.9 L526.9,18.9 L528.7,18.8 L530.5,18.8 L532.3,18.7 L534.2,18.6 L536.0,18.6 L537.8,18.5 L539.7,18.5 L541.5,18.4 L543.3,18.4 L545.1,18.3 L547.0,18.3 L548.8,18.2 L550.6,18.2 L552.5,18.1 L554.3,18.1 L556.1,18.0 L557.9,18.0 L559.8,18.0 L561.6,17.9 L563.4,17.9 L565.2,17.8 L567.1,17.8 L568.9,17.8 L570.7,17.7 L572.6,17.7 L574.4,17.7 L576.2,17.6 L578.0,17.6 L579.9,17.6 L581.7,17.5 L583.5,17.5 L585.3,17.5 L587.2,17.4 L589.0,17.4 L590.8,17.4 L592.7,17.4 L594.5,17.3 L596.3,17.3 L598.1,17.3 L600.0,17.3 L601.8,17.2 L603.6,17.2 L605.4,17.2 L607.3,17.2 L609.1,17.2 L610.9,17.1 L612.7,17.1 L614.6,17.1 L616.4,17.1 L618.2,17.1 L620.0,17.1 L621.9,17.0 L623.7,17.0 L625.5,17.0 L627.4,17.0 L629.2,17.0 L631.0,17.0 L632.8,17.0 L634.7,17.0 L636.5,16.9 L638.3,16.9 L640.1,16.9 L642.0,16.9 L643.8,16.9 L645.6,16.9 L647.4,16.9 L649.3,16.9 L651.1,16.9 L652.9,16.9 L654.7,16.9 L656.6,16.9 L658.4,16.8 L660.2,16.8 L662.1,16.8 L663.9,16.8 L665.7,16.8 L667.5,16.8 L669.4,16.8 L671.2,16.8 L673.0,16.8 L674.8,16.8 L676.7,16.8 L678.5,16.8 L680.3,16.8 L682.1,16.8 L684.0,16.8 L685.8,16.8 L687.6,16.8 L689.5,16.8 L691.3,16.8 L693.1,16.8 L694.9,16.8 L696.8,16.8 L698.6,16.8 L700.4,16.8 L702.2,16.8 L704.1,16.8 L705.9,16.8 L707.7,16.8 L709.6,16.8 L711.4,16.8 L713.2,16.8 L715.0,16.8 L716.9,16.8 L718.7,16.7 L720.5,16.7 L722.4,16.7 L724.2,16.7 L726.0,16.7 L727.8,16.7 L729.7,16.7 L731.5,16.7 L733.3,16.7 L735.2,16.7 L737.0,16.7 L738.8,16.7 L740.6,16.7 L742.5,16.7 L744.3,16.7 L746.1,16.7 L748.0,16.7 L749.8,16.7 L751.6,16.7 L753.5,16.7 L755.3,16.7 L757.1,16.7 L758.9,16.7 L760.8,16.7 L762.6,16.6 L764.4,16.6 L766.3,16.6 L768.1,16.6 L769.9,16.6 L771.8,16.6 L773.6,16.6 L775.4,16.6 L777.3,16.6 L779.1,16.6 L780.0,16.6" stroke="#F9C010"/><path d="M70.5,16.0 L71.0,17.7 L71.4,19.4 L71.9,21.1 L72.3,22.7 L72.8,24.4 L73.2,26.1 L73.7,27.8 L74.1,29.5 L74.5,31.2 L75.0,32.9 L75.4,34.6 L75.8,36.3 L76.2,38.0 L76.6,39.7 L77.1,41.4 L77.5,43.1 L77.9,44.8 L78.3,46.5 L78.7,48.3 L79.1,50.0 L79.5,51.7 L79.9,53.4 L80.3,55.1 L80.7,56.8 L81.1,58.6 L81.5,60.3 L81.9,62.0 L82.3,63.7 L82.6,65.4 L83.0,67.2 L83.4,68.9 L83.8,70.6 L84.2,72.3 L84.5,74.1 L84.9,75.8 L85.3,77.5 L85.6,79.2 L86.0,81.0 L86.4,82.7 L86.8,84.4 L87.1,86.2 L87.5,87.9 L87.8,89.6 L88.2,91.4 L88.6,93.1 L88.9,94.8 L89.3,96.6 L89.7,98.3 L90.0,100.0 L90.4,101.8 L90.7,103.5 L91.1,105.2 L91.4,107.0 L91.8,108.7 L92.2,110.4 L92.5,112.2 L92.9,113.9 L93.2,115.6 L93.6,117.3 L93.9,119.1 L94.3,120.8 L94.7,122.5 L95.0,124.3 L95.4,126.0 L95.7,127.7 L96.1,129.5 L96.4,131.2 L96.8,132.9 L97.2,134.7 L97.5,136.4 L97.9,138.1 L98.2,139.8 L98.6,141.6 L99.0,143.3 L99.3,145.0 L99.7,146.7 L100.1,148.5 L100.4,150.2 L100.8,151.9 L101.2,153.6 L101.5,155.3 L101.9,157.1 L102.3,158.8 L102.7,160.5 L103.0,162.2 L103.4,163.9 L103.8,165.6 L104.2,167.3 L104.6,169.1 L104.9,170.8 L105.3,172.5 L105.7,174.2 L106.1,175.9 L106.5,177.6 L106.9,179.3 L107.3,181.0 L107.7,182.7 L108.1,184.4 L108.5,186.1 L108.9,187.8 L109.3,189.4 L109.7,191.1 L110.2,192.8 L110.6,194.5 L111.0,196.2 L111.4,197.9 L111.9,199.6 L112.3,201.2 L112.7,202.9 L113.2,204.6 L113.6,206.3 L114.0,207.9 L114.5,209.6 L114.9,211.3 L115.3,213.0 L115.8,214.7 L116.2,216.3 L116.7,218.0 L117.1,219.7 L117.6,221.4 L118.0,223.1 L118.5,224.8 L118.9,226.5 L119.3,228.2 L119.8,229.9 L120.2,231.6 L120.7,233.3 L121.1,235.1 L121.5,236.8 L122.0,238.5 L122.4,240.3 L122.8,242.0 L123.3,243.8 L123.7,245.6 L124.1,247.3 L124.5,249.1 L125.0,250.9 L125.4,252.7 L125.8,254.5 L126.2,256.3 L126.7,258.1 L127.1,259.9 L127.6,261.7 L128.1,263.5 L128.7,265.3 L129.2,267.1 L129.9,268.8 L130.5,270.5 L131.2,272.3 L132.0,273.9 L132.8,275.6 L133.7,277.2 L134.7,278.8 L135.7,280.4 L136.8,281.9 L138.0,283.3 L139.2,284.6 L140.5,285.8 L141.8,286.8 L143.2,287.6 L144.6,288.2 L146.7,288.6 L148.8,288.4 L150.9,287.7 L152.3,286.9 L153.6,286.0 L154.9,285.0 L156.1,283.9 L157.3,282.7 L158.3,281.3 L159.4,279.9 L160.4,278.4 L161.3,276.9 L162.2,275.3 L163.1,273.6 L163.9,271.9 L164.8,270.2 L165.6,268.4 L166.3,266.7 L167.1,264.9 L167.8,263.1 L168.5,261.3 L169.3,259.6 L170.0,257.8 L170.7,256.1 L171.4,254.3 L172.0,252.6 L172.7,250.9 L173.4,249.1 L174.0,247.4 L174.7,245.7 L175.3,244.0 L175.9,242.3 L176.6,240.6 L177.2,238.9 L177.8,237.2 L178.4,235.5 L179.0,233.8 L179.6,232.2 L180.2,230.5 L180.8,228.8 L181.4,227.2 L182.0,225.5 L182.6,223.9 L183.1,222.2 L183.7,220.6 L184.3,219.0 L184.9,217.3 L185.5,215.7 L186.1,214.1 L186.7,212.5 L187.2,210.9 L187.8,209.2 L188.4,207.6 L189.0,206.0 L189.6,204.4 L190.2,202.8 L190.8,201.2 L191.4,199.7 L192.0,198.1 L192.7,196.5 L193.3,194.9 L193.9,193.3 L194.5,191.8 L195.2,190.2 L195.8,188.6 L196.5,187.1 L197.2,185.5 L197.8,183.9 L198.5,182.4 L199.2,180.8 L199.9,179.3 L200.6,177.7 L201.4,176.2 L202.1,174.6 L202.8,173.1 L203.6,171.6 L204.4,170.0 L205.2,168.5 L205.9,167.0 L206.8,165.4 L207.6,163.9 L208.4,162.4 L209.2,160.8 L210.1,159.3 L210.9,157.8 L211.8,156.3 L212.7,154.8 L213.6,153.3 L214.5,151.8 L215.4,150.3 L216.3,148.8 L217.2,147.3 L218.2,145.8 L219.1,144.3 L220.1,142.8 L221.0,141.3 L222.0,139.9 L223.0,138.4 L224.0,136.9 L225.0,135.5 L226.0,134.0 L227.0,132.6 L228.1,131.1 L229.1,129.7 L230.2,128.2 L231.2,126.8 L232.3,125.4 L233.3,124.0 L234.4,122.5 L235.5,121.1 L236.6,119.7 L237.7,118.3 L238.8,116.9 L239.9,115.5 L241.1,114.2 L242.2,112.8 L243.3,111.4 L244.5,110.0 L245.6,108.7 L246.8,107.3 L247.9,106.0 L249.1,104.6 L250.3,103.3 L251.5,102.0 L252.7,100.7 L253.8,99.3 L255.0,98.0 L256.3,96.7 L257.5,95.4 L258.7,94.2 L259.9,92.9 L261.1,91.6 L262.4,90.4 L263.6,89.1 L264.9,87.9 L266.1,86.6 L267.4,85.4 L268.7,84.2 L270.0,83.0 L271.2,81.8 L272.5,80.6 L273.8,79.4 L275.2,78.3 L276.5,77.1 L277.8,76.0 L279.1,74.9 L280.5,73.8 L281.8,72.7 L283.2,71.6 L284.6,70.5 L286.0,69.4 L287.3,68.4 L288.7,67.3 L290.2,66.3 L291.6,65.3 L293.0,64.3 L294.4,63.3 L295.9,62.4 L297.4,61.4 L298.8,60.5 L300.3,59.5 L301.8,58.6 L303.3,57.7 L304.8,56.9 L306.3,56.0 L307.9,55.2 L309.4,54.4 L311.0,53.5 L312.5,52.8 L314.1,52.0 L315.7,51.2 L317.3,50.5 L318.9,49.7 L320.5,49.0 L322.1,48.3 L323.7,47.6 L325.3,46.9 L327.0,46.3 L328.6,45.6 L330.3,45.0 L331.9,44.3 L333.6,43.7 L335.3,43.1 L336.9,42.5 L338.6,42.0 L340.3,41.4 L341.9,40.8 L343.6,40.3 L345.3,39.7 L347.0,39.2 L348.7,38.7 L350.4,38.2 L352.1,37.7 L353.8,37.2 L355.5,36.7 L357.2,36.2 L358.9,35.8 L360.6,35.3 L362.3,34.9 L364.0,34.4 L365.7,34.0 L367.4,33.6 L369.1,33.1 L370.8,32.7 L372.5,32.3 L374.2,32.0 L375.9,31.6 L377.7,31.2 L379.4,30.8 L381.1,30.5 L382.8,30.1 L384.5,29.8 L386.3,29.4 L388.0,29.1 L389.7,28.8 L391.4,28.5 L393.2,28.2 L394.9,27.9 L396.6,27.6 L398.4,27.3 L400.1,27.0 L401.8,26.7 L403.6,26.5 L405.3,26.2 L407.0,26.0 L408.8,25.7 L410.5,25.5 L412.2,25.2 L414.0,25.0 L415.7,24.8 L417.5,24.6 L419.2,24.4 L421.0,24.1 L422.7,23.9 L424.5,23.7 L426.2,23.6 L427.9,23.4 L429.7,23.2 L431.4,23.0 L433.2,22.8 L434.9,22.7 L436.7,22.5 L438.5,22.4 L440.2,22.2 L442.0,22.1 L443.7,21.9 L445.5,21.8 L447.2,21.6 L449.0,21.5 L450.7,21.4 L452.5,21.3 L454.3,21.1 L456.0,21.0 L457.8,20.9 L459.5,20.8 L461.3,20.7 L463.0,20.6 L464.8,20.5 L466.6,20.4 L468.3,20.3 L470.1,20.2 L471.9,20.1 L473.6,20.0 L475.4,19.9 L477.1,19.9 L478.9,19.8 L480.7,19.7 L482.4,19.6 L484.2,19.6 L486.0,19.5 L487.7,19.4 L489.5,19.4 L491.2,19.3 L493.0,19.2 L494.8,19.2 L496.5,19.1 L498.3,19.1 L500.1,19.0 L501.8,19.0 L503.6,18.9 L505.4,18.9 L507.1,18.8 L508.9,18.8 L510.6,18.7 L512.4,18.7 L514.2,18.6 L515.9,18.6 L517.7,18.5 L519.5,18.5 L521.2,18.4 L523.0,18.4 L524.8,18.3 L526.5,18.3 L528.3,18.2 L530.0,18.2 L531.8,18.2 L533.6,18.1 L535.3,18.1 L537.1,18.0 L538.8,18.0 L540.6,18.0 L542.4,17.9 L544.1,17.9 L545.9,17.9 L547.7,17.8 L549.4,17.8 L551.2,17.8 L552.9,17.7 L554.7,17.7 L556.5,17.7 L558.2,17.6 L560.0,17.6 L561.7,17.6 L563.5,17.5 L565.3,17.5 L567.0,17.5 L568.8,17.5 L570.5,17.4 L572.3,17.4 L574.1,17.4 L575.8,17.4 L577.6,17.3 L579.3,17.3 L581.1,17.3 L582.9,17.3 L584.6,17.2 L586.4,17.2 L588.1,17.2 L589.9,17.2 L591.7,17.2 L593.4,17.1 L595.2,17.1 L596.9,17.1 L598.7,17.1 L600.4,17.1 L602.2,17.0 L604.0,17.0 L605.7,17.0 L607.5,17.0 L609.2,17.0 L611.0,17.0 L612.8,16.9 L614.5,16.9 L616.3,16.9 L618.0,16.9 L619.8,16.9 L621.6,16.9 L623.3,16.9 L625.1,16.9 L626.8,16.8 L628.6,16.8 L630.3,16.8 L632.1,16.8 L633.9,16.8 L635.6,16.8 L637.4,16.8 L639.1,16.8 L640.9,16.8 L642.7,16.8 L644.4,16.7 L646.2,16.7 L647.9,16.7 L649.7,16.7 L651.5,16.7 L653.2,16.7 L655.0,16.7 L656.7,16.7 L658.5,16.7 L660.2,16.7 L662.0,16.7 L663.8,16.7 L665.5,16.7 L667.3,16.7 L669.0,16.7 L670.8,16.7 L672.6,16.7 L674.3,16.6 L676.1,16.6 L677.8,16.6 L679.6,16.6 L681.4,16.6 L683.1,16.6 L684.9,16.6 L686.6,16.6 L688.4,16.6 L690.2,16.6 L691.9,16.6 L693.7,16.6 L695.4,16.6 L697.2,16.6 L699.0,16.6 L700.7,16.6 L702.5,16.6 L704.2,16.6 L706.0,16.6 L707.8,16.6 L709.5,16.6 L711.3,16.6 L713.0,16.6 L714.8,16.6 L716.6,16.6 L718.3,16.6 L720.1,16.6 L721.8,16.6 L723.6,16.6 L725.4,16.6 L727.1,16.6 L728.9,16.6 L730.6,16.6 L732.4,16.6 L734.2,16.6 L735.9,16.6 L737.7,16.6 L739.5,16.6 L741.2,16.6 L743.0,16.6 L744.7,16.6 L746.5,16.6 L748.3,16.6 L750.0,16.6 L751.8,16.6 L753.6,16.6 L755.3,16.6 L757.1,16.6 L758.8,16.6 L760.6,16.6 L762.4,16.6 L764.1,16.6 L765.9,16.6 L767.7,16.6 L769.4,16.6 L771.2,16.6 L773.0,16.6 L774.7,16.6 L776.5,16.6 L778.2,16.5 L780.0,16.5 L780.0,16.5" stroke="#4370C2"/><path d="M70.7,16.0 L71.2,17.5 L71.7,19.0 L72.2,20.5 L72.7,22.0 L73.2,23.5 L73.7,25.1 L74.1,26.6 L74.6,28.1 L75.1,29.7 L75.6,31.3 L76.0,32.8 L76.5,34.4 L76.9,36.0 L77.4,37.5 L77.8,39.1 L78.2,40.7 L78.7,42.3 L79.1,43.9 L79.5,45.5 L80.0,47.1 L80.4,48.8 L80.8,50.4 L81.2,52.0 L81.6,53.6 L82.1,55.2 L82.5,56.9 L82.9,58.5 L83.3,60.1 L83.7,61.8 L84.1,63.4 L84.5,65.0 L84.9,66.7 L85.3,68.3 L85.7,70.0 L86.1,71.6 L86.5,73.2 L86.9,74.9 L87.2,76.5 L87.6,78.2 L88.0,79.8 L88.4,81.4 L88.8,83.1 L89.2,84.7 L89.6,86.3 L90.0,88.0 L90.4,89.6 L90.8,91.2 L91.2,92.8 L91.5,94.5 L91.9,96.1 L92.3,97.7 L92.7,99.3 L93.1,100.9 L93.5,102.5 L93.9,104.1 L94.3,105.7 L94.7,107.2 L95.1,108.8 L95.6,110.4 L96.0,111.9 L96.4,113.5 L96.8,115.1 L97.2,116.6 L97.6,118.2 L98.0,119.7 L98.5,121.2 L98.9,122.8 L99.3,124.3 L99.7,125.9 L100.1,127.4 L100.6,128.9 L101.0,130.4 L101.4,132.0 L101.8,133.5 L102.3,135.0 L102.7,136.5 L103.1,138.1 L103.6,139.6 L104.0,141.1 L104.4,142.7 L104.8,144.2 L105.3,145.7 L105.7,147.2 L106.1,148.8 L106.6,150.3 L107.0,151.9 L107.4,153.4 L107.9,155.0 L108.3,156.5 L108.7,158.1 L109.1,159.6 L109.6,161.2 L110.0,162.8 L110.4,164.3 L110.8,165.9 L111.3,167.5 L111.7,169.1 L112.1,170.7 L112.5,172.3 L112.9,173.9 L113.4,175.5 L113.8,177.2 L114.2,178.8 L114.6,180.4 L115.0,182.1 L115.4,183.7 L115.8,185.4 L116.2,187.1 L116.6,188.8 L117.0,190.5 L117.4,192.2 L117.8,193.9 L118.2,195.7 L118.6,197.4 L119.0,199.1 L119.4,200.9 L119.8,202.7 L120.2,204.4 L120.6,206.2 L121.0,208.0 L121.4,209.7 L121.9,211.5 L122.3,213.2 L122.8,214.9 L123.3,216.7 L123.8,218.4 L124.3,220.0 L124.9,221.7 L125.5,223.3 L126.1,224.9 L126.7,226.5 L127.4,228.1 L128.1,229.6 L128.8,231.0 L129.6,232.5 L130.4,233.9 L131.3,235.2 L132.2,236.5 L133.2,237.8 L134.2,239.0 L135.2,240.1 L136.3,241.2 L137.5,242.3 L138.7,243.2 L139.9,244.1 L141.9,245.2 L143.9,245.9 L145.9,246.4 L147.9,246.3 L149.9,245.9 L151.9,245.1 L153.2,244.3 L154.5,243.5 L155.8,242.4 L157.1,241.3 L158.3,240.1 L159.5,238.8 L160.7,237.4 L161.9,235.9 L163.0,234.4 L164.1,232.9 L165.2,231.4 L166.2,229.8 L167.2,228.3 L168.1,226.7 L169.0,225.2 L169.8,223.7 L170.6,222.3 L171.4,220.8 L172.2,219.3 L172.9,217.9 L173.6,216.5 L174.2,215.0 L174.9,213.6 L175.5,212.1 L176.1,210.7 L176.7,209.3 L177.3,207.8 L177.9,206.3 L178.5,204.8 L179.1,203.3 L179.7,201.9 L180.3,200.3 L180.8,198.8 L181.4,197.3 L182.0,195.8 L182.5,194.3 L183.1,192.7 L183.6,191.2 L184.2,189.7 L184.8,188.1 L185.3,186.6 L185.9,185.0 L186.5,183.5 L187.0,181.9 L187.6,180.4 L188.2,178.9 L188.7,177.3 L189.3,175.8 L189.9,174.2 L190.5,172.7 L191.1,171.1 L191.7,169.6 L192.3,168.1 L193.0,166.5 L193.6,165.0 L194.2,163.5 L194.9,162.0 L195.6,160.4 L196.2,158.9 L196.9,157.4 L197.6,156.0 L198.3,154.5 L199.1,153.0 L199.8,151.5 L200.6,150.1 L201.3,148.6 L202.1,147.2 L202.9,145.8 L203.7,144.4 L204.6,143.0 L205.4,141.6 L206.3,140.2 L207.2,138.8 L208.1,137.4 L209.0,136.1 L209.9,134.8 L210.9,133.4 L211.8,132.1 L212.8,130.8 L213.8,129.5 L214.8,128.2 L215.8,126.9 L216.8,125.6 L217.8,124.3 L218.8,123.0 L219.8,121.7 L220.9,120.4 L221.9,119.2 L222.9,117.9 L224.0,116.6 L225.1,115.4 L226.1,114.1 L227.2,112.8 L228.3,111.6 L229.3,110.3 L230.4,109.1 L231.5,107.9 L232.6,106.6 L233.7,105.4 L234.8,104.2 L235.9,103.0 L237.1,101.7 L238.2,100.5 L239.3,99.3 L240.5,98.1 L241.6,97.0 L242.8,95.8 L243.9,94.6 L245.1,93.4 L246.3,92.3 L247.4,91.1 L248.6,90.0 L249.8,88.8 L251.0,87.7 L252.2,86.6 L253.4,85.4 L254.7,84.3 L255.9,83.2 L257.1,82.1 L258.3,81.1 L259.6,80.0 L260.8,78.9 L262.1,77.9 L263.4,76.8 L264.6,75.8 L265.9,74.7 L267.2,73.7 L268.5,72.7 L269.8,71.7 L271.1,70.7 L272.4,69.7 L273.7,68.8 L275.0,67.8 L276.4,66.9 L277.7,65.9 L279.0,65.0 L280.4,64.1 L281.8,63.2 L283.1,62.3 L284.5,61.4 L285.9,60.5 L287.2,59.6 L288.6,58.8 L290.0,57.9 L291.4,57.1 L292.9,56.3 L294.3,55.5 L295.7,54.7 L297.1,53.9 L298.6,53.1 L300.0,52.3 L301.5,51.6 L302.9,50.9 L304.4,50.1 L305.9,49.4 L307.3,48.7 L308.8,48.0 L310.3,47.4 L311.8,46.7 L313.3,46.1 L314.8,45.4 L316.4,44.8 L317.9,44.2 L319.4,43.6 L321.0,43.0 L322.5,42.4 L324.1,41.9 L325.6,41.3 L327.2,40.8 L328.8,40.3 L330.3,39.8 L331.9,39.3 L333.5,38.8 L335.1,38.3 L336.6,37.8 L338.2,37.3 L339.8,36.9 L341.4,36.4 L343.0,36.0 L344.6,35.6 L346.2,35.1 L347.8,34.7 L349.4,34.3 L351.0,33.9 L352.6,33.5 L354.2,33.1 L355.8,32.8 L357.4,32.4 L359.0,32.0 L360.6,31.7 L362.3,31.3 L363.9,31.0 L365.5,30.6 L367.1,30.3 L368.7,29.9 L370.3,29.6 L371.9,29.3 L373.5,29.0 L375.2,28.7 L376.8,28.4 L378.4,28.1 L380.0,27.8 L381.6,27.5 L383.2,27.3 L384.9,27.0 L386.5,26.7 L388.1,26.5 L389.7,26.2 L391.4,26.0 L393.0,25.7 L394.6,25.5 L396.2,25.3 L397.9,25.0 L399.5,24.8 L401.1,24.6 L402.7,24.4 L404.4,24.2 L406.0,24.0 L407.6,23.8 L409.3,23.6 L410.9,23.4 L412.5,23.2 L414.2,23.1 L415.8,22.9 L417.4,22.7 L419.1,22.6 L420.7,22.4 L422.3,22.2 L424.0,22.1 L425.6,21.9 L427.2,21.8 L428.9,21.6 L430.5,21.5 L432.1,21.4 L433.8,21.2 L435.4,21.1 L437.1,21.0 L438.7,20.9 L440.3,20.8 L442.0,20.7 L443.6,20.5 L445.3,20.4 L446.9,20.3 L448.5,20.2 L450.2,20.1 L451.8,20.0 L453.5,19.9 L455.1,19.9 L456.8,19.8 L458.4,19.7 L460.0,19.6 L461.7,19.5 L463.3,19.5 L465.0,19.4 L466.6,19.3 L468.3,19.2 L469.9,19.2 L471.6,19.1 L473.2,19.0 L474.8,19.0 L476.5,18.9 L478.1,18.9 L479.8,18.8 L481.4,18.8 L483.1,18.7 L484.7,18.7 L486.4,18.6 L488.0,18.6 L489.7,18.5 L491.3,18.5 L493.0,18.4 L494.6,18.4 L496.2,18.3 L497.9,18.3 L499.5,18.3 L501.2,18.2 L502.8,18.2 L504.5,18.2 L506.1,18.1 L507.8,18.1 L509.4,18.1 L511.1,18.0 L512.7,18.0 L514.4,17.9 L516.0,17.9 L517.6,17.9 L519.3,17.9 L520.9,17.8 L522.6,17.8 L524.2,17.8 L525.9,17.7 L527.5,17.7 L529.2,17.7 L530.8,17.6 L532.5,17.6 L534.1,17.6 L535.8,17.6 L537.4,17.5 L539.0,17.5 L540.7,17.5 L542.3,17.5 L544.0,17.4 L545.6,17.4 L547.3,17.4 L548.9,17.4 L550.6,17.3 L552.2,17.3 L553.8,17.3 L555.5,17.3 L557.1,17.3 L558.8,17.2 L560.4,17.2 L562.1,17.2 L563.7,17.2 L565.4,17.2 L567.0,17.1 L568.7,17.1 L570.3,17.1 L571.9,17.1 L573.6,17.1 L575.2,17.1 L576.9,17.0 L578.5,17.0 L580.2,17.0 L581.8,17.0 L583.5,17.0 L585.1,17.0 L586.7,16.9 L588.4,16.9 L590.0,16.9 L591.7,16.9 L593.3,16.9 L595.0,16.9 L596.6,16.9 L598.3,16.9 L599.9,16.8 L601.5,16.8 L603.2,16.8 L604.8,16.8 L606.5,16.8 L608.1,16.8 L609.8,16.8 L611.4,16.8 L613.1,16.8 L614.7,16.8 L616.3,16.8 L618.0,16.7 L619.6,16.7 L621.3,16.7 L622.9,16.7 L624.6,16.7 L626.2,16.7 L627.8,16.7 L629.5,16.7 L631.1,16.7 L632.8,16.7 L634.4,16.7 L636.1,16.7 L637.7,16.7 L639.4,16.7 L641.0,16.7 L642.6,16.6 L644.3,16.6 L645.9,16.6 L647.6,16.6 L649.2,16.6 L650.9,16.6 L652.5,16.6 L654.2,16.6 L655.8,16.6 L657.4,16.6 L659.1,16.6 L660.7,16.6 L662.4,16.6 L664.0,16.6 L665.7,16.6 L667.3,16.6 L668.9,16.6 L670.6,16.6 L672.2,16.6 L673.9,16.6 L675.5,16.6 L677.2,16.6 L678.8,16.6 L680.5,16.6 L682.1,16.6 L683.7,16.6 L685.4,16.6 L687.0,16.6 L688.7,16.6 L690.3,16.6 L692.0,16.6 L693.6,16.6 L695.3,16.6 L696.9,16.6 L698.5,16.6 L700.2,16.6 L701.8,16.6 L703.5,16.6 L705.1,16.6 L706.8,16.6 L708.4,16.6 L710.1,16.6 L711.7,16.6 L713.4,16.6 L715.0,16.6 L716.6,16.6 L718.3,16.6 L719.9,16.6 L721.6,16.6 L723.2,16.6 L724.9,16.6 L726.5,16.6 L728.2,16.6 L729.8,16.6 L731.4,16.6 L733.1,16.6 L734.7,16.6 L736.4,16.6 L738.0,16.6 L739.7,16.6 L741.3,16.6 L743.0,16.6 L744.6,16.6 L746.3,16.6 L747.9,16.6 L749.5,16.6 L751.2,16.6 L752.8,16.6 L754.5,16.6 L756.1,16.6 L757.8,16.6 L759.4,16.6 L761.1,16.5 L762.7,16.5 L764.4,16.5 L766.0,16.5 L767.7,16.5 L769.3,16.5 L770.9,16.5 L772.6,16.5 L774.2,16.5 L775.9,16.5 L777.5,16.5 L779.2,16.5 L780.0,16.5" stroke="#08AC54"/>
</g>
<text x="48.53" y="20.84" style="font-size:14.5px;">0</text><text x="23.40" y="107.84" style="font-size:14.5px;">-0.28</text><text x="23.47" y="195.79" style="font-size:14.5px;">-0.56</text><text x="23.03" y="281.89" style="font-size:14.5px;">-0.84</text><text x="23.53" y="369.24" style="font-size:14.5px;">-1.12</text><text x="31.09" y="457.39" style="font-size:14.5px;">-1.4</text><text x="201.86" y="40.60" style="font-size:14.5px;">1.2</text><text x="343.70" y="40.60" style="font-size:14.5px;">1.4</text><text x="485.73" y="40.60" style="font-size:14.5px;">1.6</text><text x="628.19" y="40.60" style="font-size:14.5px;">1.8</text><text x="775.51" y="40.60" style="font-size:14.5px;">2</text>
<rect x="319.5" y="222.5" width="435" height="212" fill="none" stroke="#000" stroke-width="1.3"/>
<path d="M341.9,274.8 H370.4" stroke="#000000" stroke-width="2.75"/><text class="lg" x="379.88" y="278.80" style="font-size:13.4px;" textLength="17.37" lengthAdjust="spacingAndGlyphs">ℓq</text><text class="lg" x="404.20" y="278.80" style="font-size:13.4px;" textLength="8.38" lengthAdjust="spacingAndGlyphs">=</text><text class="lg" x="416.17" y="278.80" style="font-size:13.4px;" textLength="31.09" lengthAdjust="spacingAndGlyphs">0.00</text><path d="M486.9,274.8 H515.4" stroke="#E30000" stroke-width="2.75"/><text class="lg" x="524.88" y="278.80" style="font-size:13.4px;" textLength="17.37" lengthAdjust="spacingAndGlyphs">ℓq</text><text class="lg" x="549.20" y="278.80" style="font-size:13.4px;" textLength="8.38" lengthAdjust="spacingAndGlyphs">=</text><text class="lg" x="561.17" y="278.80" style="font-size:13.4px;" textLength="30.87" lengthAdjust="spacingAndGlyphs">0.01</text><path d="M631.9,274.8 H660.4" stroke="#A3A3A3" stroke-width="2.75"/><text class="lg" x="669.88" y="278.80" style="font-size:13.4px;" textLength="17.37" lengthAdjust="spacingAndGlyphs">ℓq</text><text class="lg" x="694.20" y="278.80" style="font-size:13.4px;" textLength="8.38" lengthAdjust="spacingAndGlyphs">=</text><text class="lg" x="706.17" y="278.80" style="font-size:13.4px;" textLength="31.01" lengthAdjust="spacingAndGlyphs">0.03</text><path d="M341.9,381.3 H370.4" stroke="#F9C010" stroke-width="2.75"/><text class="lg" x="379.88" y="385.20" style="font-size:13.4px;" textLength="17.37" lengthAdjust="spacingAndGlyphs">ℓq</text><text class="lg" x="404.20" y="385.20" style="font-size:13.4px;" textLength="8.38" lengthAdjust="spacingAndGlyphs">=</text><text class="lg" x="416.17" y="385.20" style="font-size:13.4px;" textLength="30.87" lengthAdjust="spacingAndGlyphs">0.05</text><path d="M486.9,381.3 H515.4" stroke="#4370C2" stroke-width="2.75"/><text class="lg" x="524.88" y="385.20" style="font-size:13.4px;" textLength="17.37" lengthAdjust="spacingAndGlyphs">ℓq</text><text class="lg" x="549.20" y="385.20" style="font-size:13.4px;" textLength="8.38" lengthAdjust="spacingAndGlyphs">=</text><text class="lg" x="561.17" y="385.20" style="font-size:13.4px;" textLength="31.14" lengthAdjust="spacingAndGlyphs">0.07</text><path d="M631.9,381.3 H660.4" stroke="#08AC54" stroke-width="2.75"/><text class="lg" x="669.88" y="385.20" style="font-size:13.4px;" textLength="17.37" lengthAdjust="spacingAndGlyphs">ℓq</text><text class="lg" x="694.20" y="385.20" style="font-size:13.4px;" textLength="8.38" lengthAdjust="spacingAndGlyphs">=</text><text class="lg" x="706.17" y="385.20" style="font-size:13.4px;" textLength="31.02" lengthAdjust="spacingAndGlyphs">0.09</text>
<text class="m" x="10.40" y="62.84" style="font-size:25.5px;" textLength="15.19" lengthAdjust="spacingAndGlyphs">σ</text><text class="m" x="24.65" y="68.80" style="font-size:19.7px;" textLength="19.83" lengthAdjust="spacingAndGlyphs">rr</text><text class="m" x="694.72" y="54.00" style="font-size:24.6px;" textLength="13.58" lengthAdjust="spacingAndGlyphs">r</text>
</svg>
</body></html>
